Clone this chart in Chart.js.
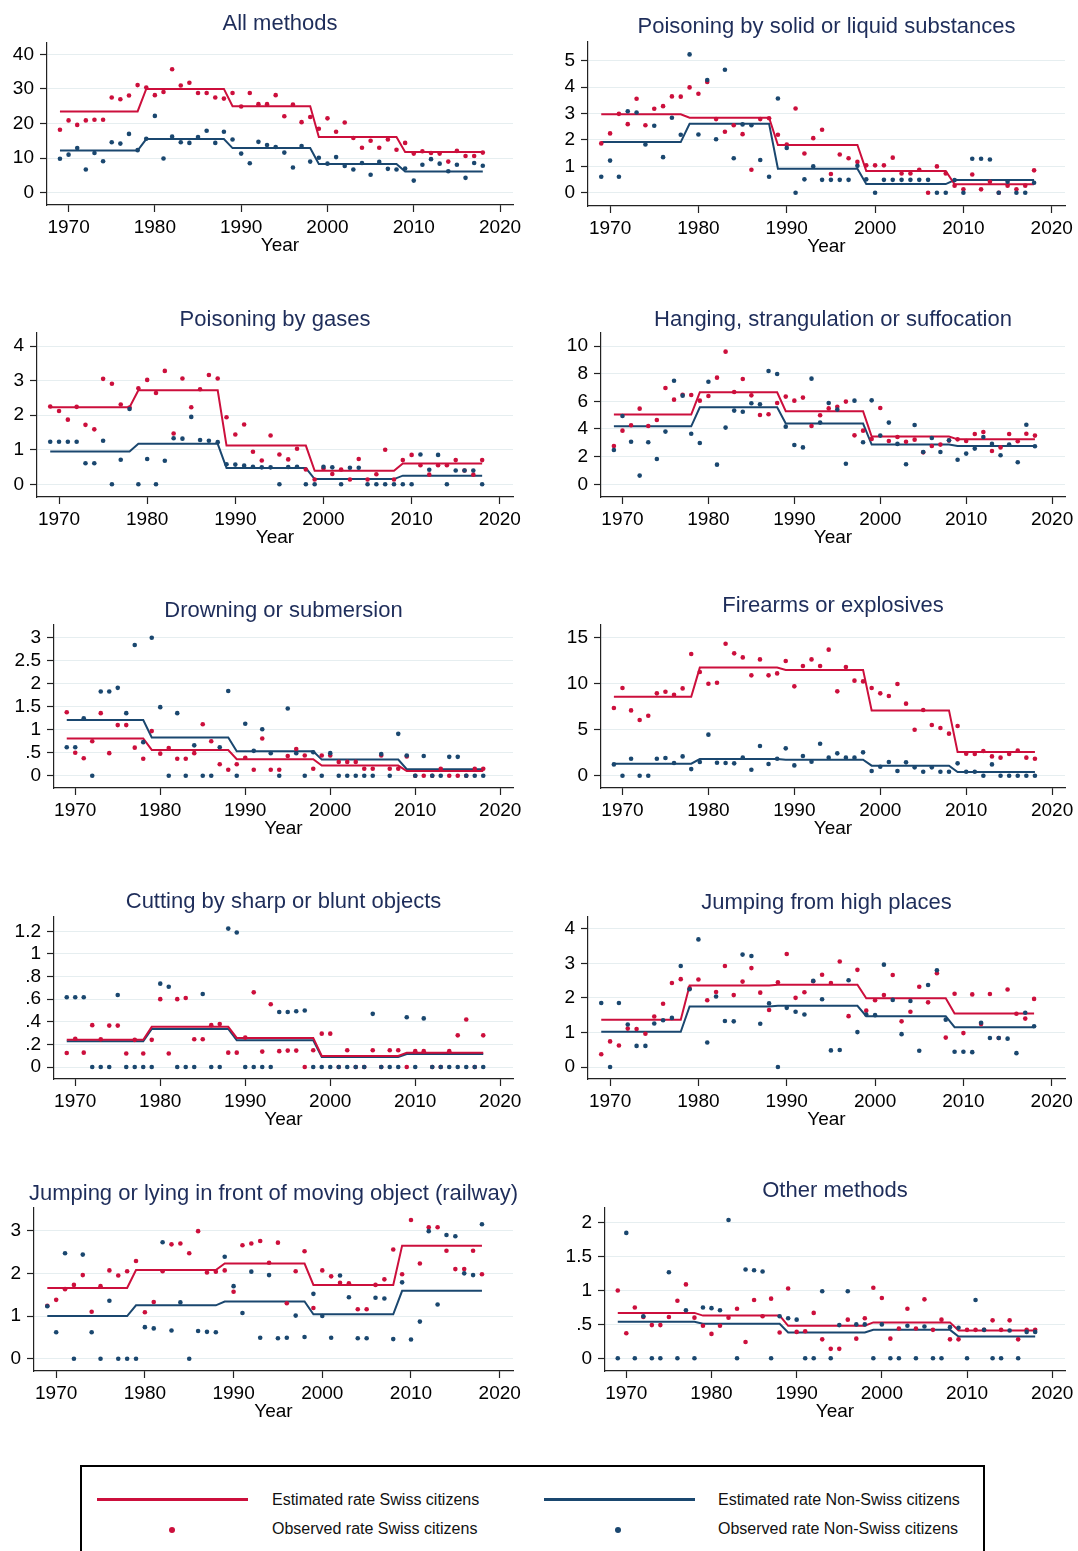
<!DOCTYPE html>
<html>
<head>
<meta charset="utf-8">
<title>Suicide rates by method, Swiss and Non-Swiss citizens</title>
<script src="https://cdn.jsdelivr.net/npm/chart.js@4.4.1/dist/chart.umd.min.js"></script>
<style>
    html, body { margin: 0; padding: 0; background: #fff; }
    #page { position: relative; width: 1078px; height: 1551px; overflow: hidden; font-family: "Liberation Sans", Arial, sans-serif; }
    #page canvas { position: absolute; }
    .leg-line { position: absolute; width: 151px; height: 3px; }
    .leg-dot { position: absolute; width: 6px; height: 6px; border-radius: 50%; }
    .leg-text { position: absolute; font-size: 16px; line-height: 16px; color: #111; white-space: nowrap; }
    .swiss { background: #cc0f3c; }
    .foreign { background: #1a476f; }
</style>
</head>
<body>
<div id="page">
    <div style="position:absolute;left:80px;top:1465px;width:905px;height:120px;border:2px solid #000;box-sizing:border-box;"></div>
    <div class="leg-line swiss" style="left:97px;top:1498px;"></div>
    <div class="leg-text" style="left:272px;top:1492px;">Estimated rate Swiss citizens</div>
    <div class="leg-line foreign" style="left:544px;top:1498px;"></div>
    <div class="leg-text" style="left:718px;top:1492px;">Estimated rate Non-Swiss citizens</div>
    <div class="leg-dot swiss" style="left:169px;top:1527px;"></div>
    <div class="leg-text" style="left:272px;top:1521px;">Observed rate Swiss citizens</div>
    <div class="leg-dot foreign" style="left:615px;top:1527px;"></div>
    <div class="leg-text" style="left:718px;top:1521px;">Observed rate Non-Swiss citizens</div>
</div>
<script>
// ---- data ----
const years = [1969, 1970, 1971, 1972, 1973, 1974, 1975, 1976, 1977, 1978,
    1979, 1980, 1981, 1982, 1983, 1984, 1985, 1986, 1987, 1988,
    1989, 1990, 1991, 1992, 1993, 1994, 1995, 1996, 1997, 1998,
    1999, 2000, 2001, 2002, 2003, 2004, 2005, 2006, 2007, 2008,
    2009, 2010, 2011, 2012, 2013, 2014, 2015, 2016, 2017, 2018];
const periodStart = [1969, 1979, 1989, 1999, 2009];
const periodEnd = [1978, 1988, 1998, 2008, 2018];
const xTickLabels = ["1970", "1980", "1990", "2000", "2010", "2020"];

// All methods
const allSwissObs = [18.2, 20.9, 19.6, 20.9, 21.1, 21.1, 27.5, 27.0, 28.1, 31.1,
    30.4, 28.2, 29.1, 35.7, 31.0, 31.8, 28.8, 28.8, 27.5, 27.2,
    28.8, 24.9, 28.8, 25.6, 25.6, 28.2, 22.1, 25.5, 20.4, 21.9,
    18.5, 21.5, 17.6, 20.3, 15.8, 13.0, 15.0, 13.0, 15.4, 12.4,
    14.4, 11.3, 12.0, 11.5, 11.3, 9.0, 12.1, 10.6, 10.6, 11.6];
const allForeignObs = [9.8, 11.0, 12.9, 6.7, 11.5, 9.1, 14.6, 14.2, 17.0, 12.3,
    15.6, 22.2, 9.9, 16.2, 14.6, 14.4, 16.1, 17.9, 14.4, 17.6,
    15.4, 11.3, 8.5, 14.7, 13.8, 13.2, 11.6, 7.3, 13.5, 9.0,
    10.1, 8.4, 10.3, 7.7, 6.7, 8.6, 5.2, 8.9, 6.9, 6.7,
    7.0, 3.5, 8.1, 9.7, 8.4, 6.2, 8.1, 4.3, 8.6, 7.8];
const allSwissEst = [23.5, 30.0, 25.0, 16.1, 11.8];
const allForeignEst = [12.2, 15.5, 12.9, 8.3, 6.1];
const allTicks = ["0", "10", "20", "30", "40"];

// Poisoning by solid or liquid substances
const solidSwissObs = [1.87, 2.25, 2.99, 2.60, 3.56, 2.56, 3.18, 3.28, 3.65, 3.64,
    3.99, 3.75, 4.20, 2.79, 2.31, 2.56, 2.22, 0.87, 2.79, 2.82,
    2.20, 1.83, 3.19, 1.49, 2.07, 2.39, 0.71, 1.45, 1.31, 1.17,
    1.04, 1.04, 1.04, 1.33, 0.73, 0.73, 0.87, 0, 1.00, 0.73,
    0.27, 0.13, 0.69, 0.13, 0.42, 0, 0.27, 0.13, 0.27, 0.85];
const solidForeignObs = [0.61, 1.22, 0.61, 3.09, 3.04, 1.83, 2.54, 1.35, 2.84, 2.20,
    5.24, 2.21, 4.27, 2.03, 4.66, 1.31, 2.59, 2.56, 1.24, 0.61,
    3.57, 1.70, 0, 0.51, 1.00, 0.49, 0.49, 0.49, 0.49, 1.02,
    0.51, 0, 0.49, 0.49, 0.49, 0.49, 0.49, 0.49, 0, 0,
    0.48, 0, 1.29, 1.29, 1.26, 0, 0.42, 0, 0, 0.38];
const solidSwissEst = [2.97, 2.84, 1.81, 0.83, 0.32];
const solidForeignEst = [1.92, 2.61, 0.91, 0.33, 0.48];
const solidTicks = ["0", "1", "2", "3", "4", "5"];

// Poisoning by gases
const gasSwissObs = [2.25, 2.12, 1.87, 2.24, 1.72, 1.59, 3.05, 2.91, 2.31, 2.22,
    2.78, 3.02, 2.64, 3.28, 1.47, 3.06, 2.23, 2.75, 3.16, 3.06,
    1.94, 1.44, 1.73, 0.94, 0.69, 1.41, 0.86, 0.72, 1.03, 0.43,
    0.14, 0.46, 0.30, 0.43, 0.14, 0.73, 0.14, 0.29, 1.00, 0.14,
    0.70, 0.85, 0.55, 0.28, 0.55, 0.55, 0.70, 0.40, 0.28, 0.70];
const gasForeignObs = [1.23, 1.23, 1.23, 1.23, 0.61, 0.61, 1.26, 0, 0.71, 2.18,
    0, 0.73, 0, 0.68, 1.33, 1.32, 1.95, 1.28, 1.26, 1.22,
    0.58, 0.57, 0.54, 0.51, 0.49, 0.49, 0, 0.50, 0.51, 0,
    0, 0.51, 0.49, 0, 0.48, 0.48, 0, 0, 0, 0,
    0, 0, 0.86, 0.42, 0.85, 0, 0.40, 0.40, 0.40, 0];
const gasSwissEst = [2.23, 2.72, 1.12, 0.39, 0.60];
const gasForeignEst = [0.95, 1.17, 0.47, 0.15, 0.25];
const gasTicks = ["0", "1", "2", "3", "4"];

// Hanging, strangulation or suffocation
const hangSwissObs = [2.77, 3.88, 4.27, 5.47, 4.22, 4.65, 6.96, 6.12, 6.48, 6.46,
    6.05, 6.39, 7.71, 9.59, 6.67, 7.61, 6.43, 5.01, 5.06, 5.88,
    6.34, 6.05, 6.27, 4.22, 4.99, 5.49, 5.61, 5.98, 3.54, 3.88,
    3.28, 5.52, 3.13, 3.42, 3.08, 3.23, 2.31, 2.77, 2.87, 3.16,
    3.25, 3.13, 3.64, 3.78, 2.41, 2.67, 3.64, 3.11, 3.66, 3.52];
const hangForeignObs = [2.48, 4.94, 3.08, 0.63, 3.04, 1.83, 3.81, 7.49, 6.41, 3.66,
    2.99, 7.42, 1.42, 4.10, 5.33, 5.25, 5.86, 5.78, 8.19, 7.98,
    4.17, 2.84, 2.67, 7.64, 4.46, 5.88, 5.40, 1.49, 6.05, 3.04,
    6.07, 3.52, 4.46, 2.92, 1.45, 4.29, 2.34, 3.35, 2.34, 3.18,
    1.78, 2.22, 2.58, 3.42, 2.92, 2.10, 2.87, 1.59, 4.31, 2.75];
const hangSwissEst = [5.04, 6.65, 5.28, 3.45, 3.25];
const hangForeignEst = [4.19, 5.57, 4.39, 2.87, 2.77];
const hangTicks = ["0", "2", "4", "6", "8", "10"];

// Drowning or submersion
const drownSwissObs = [1.38, 0.50, 0.38, 0.75, 1.36, 0.49, 1.10, 1.10, 0.61, 0.37,
    0.97, 0.48, 0.60, 0.37, 0.37, 0.49, 1.12, 0.75, 0.25, 0.13,
    0.25, 0.39, 0.13, 0.81, 0.13, 0.13, 0.43, 0.58, 0.44, 0.15,
    0.44, 0.44, 0.30, 0.30, 0.30, 0.15, 0.15, 0.44, 0.15, 0.15,
    0.42, 0, 0, 0, 0.15, 0, 0, 0, 0.15, 0.15];
const drownForeignObs = [0.62, 0.62, 1.25, 0, 1.83, 1.83, 1.91, 1.36, 2.84, 0.73,
    3.00, 1.49, 0, 1.36, 0, 0.66, 0, 0, 0.62, 1.84,
    0, 1.13, 0.54, 1.01, 0.49, 0, 1.46, 0.49, 0, 0.51,
    0, 0.49, 0, 0, 0, 0, 0, 0.47, 0, 0.91,
    0.44, 0, 0.43, 0, 0, 0.41, 0.41, 0, 0, 0];
const drownSwissEst = [0.81, 0.56, 0.36, 0.22, 0.10];
const drownForeignEst = [1.21, 0.83, 0.53, 0.35, 0.14];
const drownTicks = ["0", ".5", "1", "1.5", "2", "2.5", "3"];

// Firearms or explosives
const fireSwissObs = [7.36, 9.53, 7.10, 6.05, 6.52, 8.95, 9.13, 8.80, 9.49, 13.22,
    11.27, 10.00, 10.11, 14.35, 13.30, 12.86, 10.91, 12.64, 10.91, 11.12,
    12.46, 9.71, 11.92, 12.64, 11.92, 13.70, 9.17, 11.81, 10.33, 10.25,
    9.53, 8.95, 8.66, 9.96, 7.83, 5.00, 7.14, 5.51, 5.18, 4.57,
    5.40, 2.39, 2.36, 2.68, 2.10, 1.96, 2.36, 2.72, 1.96, 1.85];
const fireForeignObs = [1.23, 0, 1.85, 0, 0, 1.85, 1.92, 1.38, 2.10, 0.72,
    1.49, 4.46, 1.41, 1.38, 1.34, 1.96, 0.65, 3.22, 1.27, 1.85,
    2.97, 1.12, 2.14, 1.52, 3.48, 1.96, 2.43, 1.96, 1.96, 2.54,
    0.51, 0.98, 1.49, 0.51, 1.45, 0.91, 0.43, 0.91, 0.43, 0.43,
    1.34, 0.43, 0.43, 0, 1.23, 0, 0, 0, 0, 0];
const fireSwissEst = [8.59, 11.75, 11.50, 7.10, 2.57];
const fireForeignEst = [1.30, 1.81, 1.74, 1.09, 0.40];
const fireTicks = ["0", "5", "10", "15"];

// Cutting by sharp or blunt objects
const cutSwissObs = [0.124, 0.25, 0.127, 0.37, 0.245, 0.366, 0.366, 0.12, 0.24, 0.12,
    0.24, 0.60, 0.12, 0.60, 0.61, 0.245, 0.245, 0.37, 0.38, 0.127,
    0.127, 0.26, 0.66, 0.136, 0.555, 0.14, 0.145, 0.145, 0, 0.148,
    0.295, 0.295, 0, 0.148, 0, 0, 0.148, 0, 0.148, 0.148,
    0, 0.14, 0.14, 0, 0, 0.14, 0.28, 0.42, 0, 0.28];
const cutForeignObs = [0.617, 0.617, 0.617, 0, 0, 0, 0.637, 0, 0, 0,
    0, 0.737, 0.71, 0, 0, 0, 0.646, 0, 0, 1.224,
    1.19, 0, 0, 0, 0, 0.487, 0.487, 0.493, 0.50, 0,
    0, 0, 0, 0, 0, 0, 0.47, 0, 0, 0,
    0.44, 0, 0.43, 0, 0, 0, 0, 0, 0, 0];
const cutSwissEst = [0.24, 0.355, 0.257, 0.097, 0.127];
const cutForeignEst = [0.227, 0.336, 0.236, 0.088, 0.115];
const cutTicks = ["0", ".2", ".4", ".6", ".8", "1", "1.2"];

// Jumping from high places
const jumpSwissObs = [0.37, 0.74, 0.62, 1.11, 1.10, 0.96, 1.46, 1.83, 2.43, 2.54,
    2.28, 2.53, 1.93, 2.17, 2.92, 2.08, 2.47, 2.86, 2.15, 1.65,
    2.45, 3.27, 2.00, 2.16, 2.48, 2.67, 2.43, 3.05, 1.47, 2.81,
    1.63, 1.93, 2.08, 2.66, 1.32, 1.60, 2.32, 1.87, 2.71, 0.85,
    2.12, 0.98, 2.10, 1.24, 2.11, 0.84, 2.24, 1.54, 1.40, 1.97];
const jumpForeignObs = [1.85, 0, 1.85, 1.23, 0.61, 0.61, 1.26, 1.35, 1.42, 2.92,
    2.25, 3.69, 0.71, 2.04, 1.33, 1.32, 3.25, 3.21, 1.25, 1.84,
    0, 1.71, 1.60, 1.52, 2.49, 1.96, 0.48, 0.49, 2.51, 1.01,
    1.52, 1.50, 2.96, 1.94, 0.95, 1.91, 0.47, 2.37, 2.80, 1.37,
    0.44, 0.44, 0.43, 1.28, 0.84, 0.84, 0.82, 0.40, 1.57, 1.18];
const jumpSwissEst = [1.37, 2.36, 2.38, 1.99, 1.55];
const jumpForeignEst = [1.02, 1.75, 1.77, 1.47, 1.15];
const jumpTicks = ["0", "1", "2", "3", "4"];

// Jumping or lying in front of moving object (railway)
const railSwissObs = [1.24, 1.38, 1.63, 1.73, 1.96, 1.10, 1.70, 2.07, 1.95, 2.05,
    2.29, 1.09, 1.33, 2.05, 2.68, 2.70, 2.47, 2.99, 2.02, 2.04,
    2.07, 1.57, 2.66, 2.70, 2.76, 2.25, 2.72, 1.30, 2.05, 2.52,
    1.19, 2.07, 1.93, 1.78, 1.77, 1.16, 1.16, 1.73, 1.86, 2.56,
    1.98, 3.25, 2.23, 3.08, 3.08, 2.53, 2.10, 2.10, 2.53, 1.98];
const railForeignObs = [1.23, 0.62, 2.47, 0, 2.44, 0.62, 0, 1.36, 0, 0,
    0, 0.74, 0.71, 2.73, 0.66, 1.32, 0, 0.65, 0.63, 0.62,
    2.39, 1.70, 1.07, 2.04, 0.49, 1.96, 0.48, 0.49, 1.01, 0.51,
    1.52, 1.00, 0.49, 1.95, 1.44, 0.48, 0.48, 1.43, 1.41, 0.46,
    1.79, 0.45, 0.87, 2.99, 1.27, 2.90, 2.87, 2.00, 1.96, 3.15];
const railSwissEst = [1.66, 2.08, 2.23, 1.73, 2.65];
const railForeignEst = [1.00, 1.25, 1.34, 1.04, 1.59];
const railTicks = ["0", "1", "2", "3"];

// Other methods
const otherSwissObs = [1.00, 0.37, 0.75, 0.61, 0.49, 0.49, 0.61, 0.85, 1.09, 0.60,
    0.48, 0.36, 0.48, 0.60, 0.73, 0.24, 0.86, 0.62, 0.88, 0.38,
    1.03, 0.39, 0.40, 0.67, 0.28, 0.14, 0.14, 0.57, 0.29, 0.59,
    1.04, 0.89, 0.29, 0.44, 0.73, 0.44, 0.87, 0.42, 0.57, 0.28,
    0.28, 0.42, 0.42, 0.42, 0.56, 0.42, 0.56, 0.28, 0.42, 0.42];
const otherForeignObs = [0, 1.85, 0, 0.62, 0, 0, 1.27, 0, 0.71, 0,
    0.75, 0.74, 0.71, 2.04, 0, 1.31, 1.30, 1.28, 0, 0.62,
    0.59, 0.57, 0, 0, 0.99, 0, 0.49, 0.99, 0.50, 0.50,
    0, 0.50, 0, 0, 0.48, 0, 0.47, 0, 0, 0.46,
    0.45, 0, 0.86, 0.42, 0, 0, 0.41, 0, 0.39, 0.39];
const otherSwissEst = [0.67, 0.63, 0.48, 0.53, 0.41];
const otherForeignEst = [0.54, 0.51, 0.38, 0.42, 0.32];
const otherTicks = ["0", ".5", "1", "1.5", "2"];

// ---- look ----
const swissRed = "#cc0f3c";
const foreignBlue = "#1a476f";
const titleNavy = "#1e2d5a";
const gridColor = "#e6eef0";
const axisColor = "#222222";

Chart.defaults.font.family = "'Liberation Sans', Arial, sans-serif";
Chart.defaults.color = "#000";

// panel boxes: plot area left/right/top/bottom in page pixels
const panels = [
    { title: "All methods", swissObs: allSwissObs, foreignObs: allForeignObs, swissEst: allSwissEst, foreignEst: allForeignEst, ticks: allTicks,
      col: 0, L: 47, T: 43, B: 205, yMin: -3.55, yMax: 43.27, titleY: -13 },
    { title: "Poisoning by solid or liquid substances", swissObs: solidSwissObs, foreignObs: solidForeignObs, swissEst: solidSwissEst, foreignEst: solidForeignEst, ticks: solidTicks,
      col: 1, L: 588, T: 42, B: 206, yMin: -0.50, yMax: 5.71, titleY: -9 },
    { title: "Poisoning by gases", swissObs: gasSwissObs, foreignObs: gasForeignObs, swissEst: gasSwissEst, foreignEst: gasForeignEst, ticks: gasTicks,
      col: 0, L: 37, T: 333, B: 497, yMin: -0.367, yMax: 4.376, titleY: -7 },
    { title: "Hanging, strangulation or suffocation", swissObs: hangSwissObs, foreignObs: hangForeignObs, swissEst: hangSwissEst, foreignEst: hangForeignEst, ticks: hangTicks,
      col: 1, L: 601, T: 333, B: 497, yMin: -0.918, yMax: 10.94, titleY: -7 },
    { title: "Drowning or submersion", swissObs: drownSwissObs, foreignObs: drownForeignObs, swissEst: drownSwissEst, foreignEst: drownForeignEst, ticks: drownTicks,
      col: 0, L: 54, T: 625, B: 788, yMin: -0.267, yMax: 3.276, titleY: -8 },
    { title: "Firearms or explosives", swissObs: fireSwissObs, foreignObs: fireForeignObs, swissEst: fireSwissEst, foreignEst: fireForeignEst, ticks: fireTicks,
      col: 1, L: 601, T: 625, B: 788, yMin: -1.337, yMax: 16.38, titleY: -13 },
    { title: "Cutting by sharp or blunt objects", swissObs: cutSwissObs, foreignObs: cutForeignObs, swissEst: cutSwissEst, foreignEst: cutForeignEst, ticks: cutTicks,
      col: 0, L: 54, T: 917, B: 1079, yMin: -0.1061, yMax: 1.3265, titleY: -9 },
    { title: "Jumping from high places", swissObs: jumpSwissObs, foreignObs: jumpForeignObs, swissEst: jumpSwissEst, foreignEst: jumpForeignEst, ticks: jumpTicks,
      col: 1, L: 588, T: 917, B: 1079, yMin: -0.347, yMax: 4.338, titleY: -8 },
    { title: "Jumping or lying in front of moving object (railway)", swissObs: railSwissObs, foreignObs: railForeignObs, swissEst: railSwissEst, foreignEst: railForeignEst, ticks: railTicks,
      col: 0, L: 34, T: 1208, B: 1371, yMin: -0.288, yMax: 3.532, titleY: -8 },
    { title: "Other methods", swissObs: otherSwissObs, foreignObs: otherForeignObs, swissEst: otherSwissEst, foreignEst: otherForeignEst, ticks: otherTicks,
      col: 1, L: 605, T: 1208, B: 1371, yMin: -0.187, yMax: 2.217, titleY: -11 },
];

// column canvases: left edge, width, right plot edge
const columns = [
    { left: 0, width: 530, right: 513 },
    { left: 535, width: 543, right: 1065 },
];
const titleSpace = 42;
const xAxisSpace = 52;

const panelTitle = {
    id: "panelTitle",
    afterDraw(chart, args, opts) {
        const { ctx, chartArea } = chart;
        ctx.save();
        ctx.font = "22px 'Liberation Sans', Arial, sans-serif";
        ctx.fillStyle = titleNavy;
        ctx.textAlign = "center";
        ctx.textBaseline = "alphabetic";
        ctx.fillText(opts.text, (chartArea.left + chartArea.right) / 2, chartArea.top + opts.offset);
        ctx.restore();
    },
};

function stepLine(est) {
    let pts = [];
    est.forEach(function (v, i) {
        pts.push({ x: periodStart[i], y: v });
        pts.push({ x: periodEnd[i], y: v });
    });
    return pts;
}

function observed(vals) {
    return years.map(function (yr, i) {
        return { x: yr, y: vals[i] };
    });
}

let page = document.getElementById("page");

panels.forEach(function (p) {
    let col = columns[p.col];
    let canvas = document.createElement("canvas");
    let h = titleSpace + (p.B - p.T) + xAxisSpace;
    canvas.width = col.width;
    canvas.height = h;
    canvas.style.left = col.left + "px";
    canvas.style.top = (p.T - titleSpace) + "px";
    canvas.style.width = col.width + "px";
    canvas.style.height = h + "px";
    page.appendChild(canvas);

    let yAxisWidth = p.L - col.left;
    let tickLabels = p.ticks;

    new Chart(canvas, {
        type: "scatter",
        data: {
            datasets: [
                {
                    label: "Observed rate Non-Swiss citizens",
                    data: observed(p.foreignObs),
                    backgroundColor: foreignBlue,
                    borderColor: foreignBlue,
                    pointRadius: 2.3,
                    pointBorderWidth: 0,
                },
                {
                    label: "Observed rate Swiss citizens",
                    data: observed(p.swissObs),
                    backgroundColor: swissRed,
                    borderColor: swissRed,
                    pointRadius: 2.3,
                    pointBorderWidth: 0,
                },
                {
                    label: "Estimated rate Swiss citizens",
                    data: stepLine(p.swissEst),
                    showLine: true,
                    borderColor: swissRed,
                    borderWidth: 2,
                    pointRadius: 0,
                    tension: 0,
                },
                {
                    label: "Estimated rate Non-Swiss citizens",
                    data: stepLine(p.foreignEst),
                    showLine: true,
                    borderColor: foreignBlue,
                    borderWidth: 2,
                    pointRadius: 0,
                    tension: 0,
                },
            ],
        },
        options: {
            responsive: false,
            animation: false,
            events: [],
            layout: {
                padding: { top: titleSpace, right: col.left + col.width - col.right, left: 0, bottom: 0 },
            },
            plugins: {
                legend: { display: false },
                tooltip: { enabled: false },
                panelTitle: { text: p.title, offset: p.titleY },
            },
            scales: {
                x: {
                    type: "linear",
                    min: 1967.5,
                    max: 2021.5,
                    afterBuildTicks: function (scale) {
                        scale.ticks = xTickLabels.map(function (t) { return { value: Number(t) }; });
                    },
                    afterFit: function (scale) { scale.height = xAxisSpace; },
                    grid: { drawOnChartArea: false, drawTicks: true, tickLength: 7, tickColor: axisColor, tickWidth: 1.2 },
                    border: { color: axisColor, width: 1.2 },
                    ticks: {
                        font: { size: 19 },
                        color: "#000",
                        padding: 4,
                        maxRotation: 0,
                        autoSkip: false,
                        callback: function (value) { return String(value); },
                    },
                    title: { display: true, text: "Year", font: { size: 19 }, color: "#000", padding: 0 },
                },
                y: {
                    type: "linear",
                    min: p.yMin,
                    max: p.yMax,
                    afterBuildTicks: function (scale) {
                        scale.ticks = tickLabels.map(function (t) { return { value: parseFloat(t) }; });
                    },
                    afterFit: function (scale) { scale.width = yAxisWidth; },
                    grid: { color: gridColor, lineWidth: 1, drawTicks: true, tickLength: 7, tickColor: axisColor, tickWidth: 1.2 },
                    border: { color: axisColor, width: 1.2 },
                    ticks: {
                        font: { size: 19 },
                        color: "#000",
                        padding: 6,
                        autoSkip: false,
                        callback: function (value, index) { return tickLabels[index]; },
                    },
                },
            },
        },
        plugins: [panelTitle],
    });
});
</script>
</body>
</html>
